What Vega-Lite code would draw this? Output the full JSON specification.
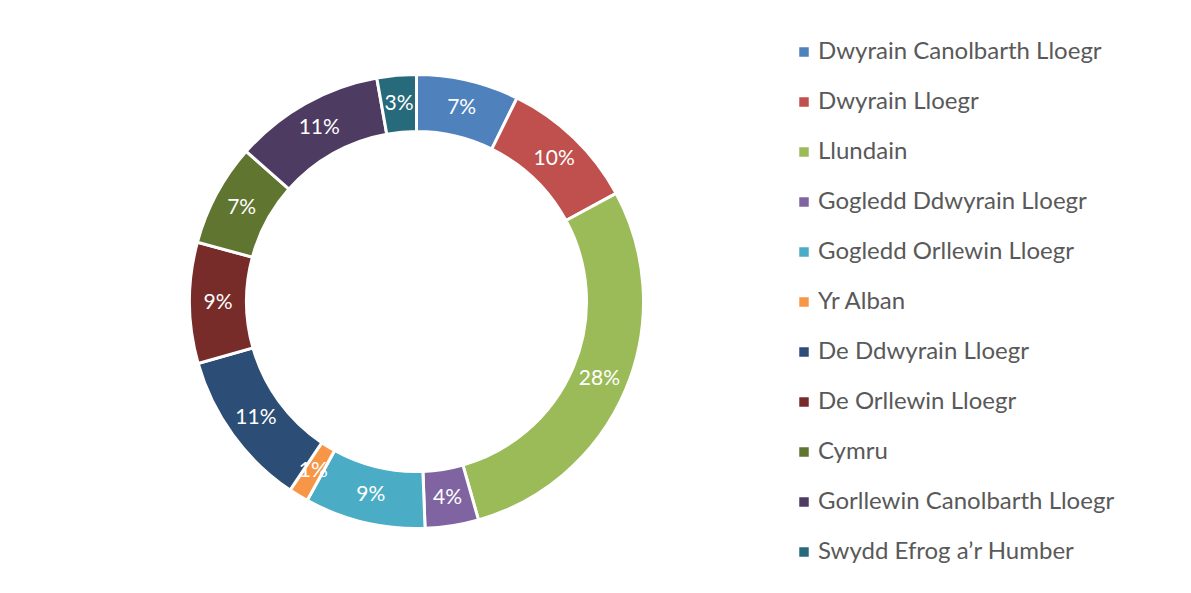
{
  "$schema": "https://vega.github.io/schema/vega-lite/v6.json",
  "width": 833,
  "height": 583,
  "autosize": {"type": "none"},
  "padding": {"left": 0, "top": 10, "right": 358, "bottom": 0},
  "background": "white",
  "config": {"view": {"stroke": null}},
  "data": {
    "values": [
      {"idx": 1, "region": "Dwyrain Canolbarth Lloegr", "share": 7.3, "label": "7%"},
      {"idx": 2, "region": "Dwyrain Lloegr", "share": 9.8, "label": "10%"},
      {"idx": 3, "region": "Llundain", "share": 28.5, "label": "28%"},
      {"idx": 4, "region": "Gogledd Ddwyrain Lloegr", "share": 3.8, "label": "4%"},
      {"idx": 5, "region": "Gogledd Orllewin Lloegr", "share": 8.6, "label": "9%"},
      {"idx": 6, "region": "Yr Alban", "share": 1.4, "label": "1%"},
      {"idx": 7, "region": "De Ddwyrain Lloegr", "share": 11.2, "label": "11%"},
      {"idx": 8, "region": "De Orllewin Lloegr", "share": 8.6, "label": "9%"},
      {"idx": 9, "region": "Cymru", "share": 7.3, "label": "7%"},
      {"idx": 10, "region": "Gorllewin Canolbarth Lloegr", "share": 10.7, "label": "11%"},
      {"idx": 11, "region": "Swydd Efrog a’r Humber", "share": 2.8, "label": "3%"}
    ]
  },
  "encoding": {
    "theta": {"field": "share", "type": "quantitative", "stack": true},
    "order": {"field": "idx", "type": "quantitative"}
  },
  "layer": [
    {
      "mark": {"type": "arc", "outerRadius": 227, "innerRadius": 170, "stroke": "white", "strokeWidth": 3},
      "encoding": {
        "color": {
          "field": "region",
          "type": "nominal",
          "sort": null,
          "scale": {
            "domain": ["Dwyrain Canolbarth Lloegr", "Dwyrain Lloegr", "Llundain", "Gogledd Ddwyrain Lloegr", "Gogledd Orllewin Lloegr", "Yr Alban", "De Ddwyrain Lloegr", "De Orllewin Lloegr", "Cymru", "Gorllewin Canolbarth Lloegr", "Swydd Efrog a’r Humber"],
            "range": ["#4F81BD", "#C0504D", "#9BBB59", "#8064A2", "#4BACC6", "#F79646", "#2C4D75", "#772C2A", "#5F7530", "#4D3B62", "#276A7C"]
          },
          "legend": {
            "orient": "none",
            "legendX": 792,
            "legendY": 30,
            "title": null,
            "symbolType": "square",
            "symbolSize": 90,
            "symbolStrokeWidth": 0,
            "labelFont": "Lato",
            "labelFontSize": 24,
            "labelColor": "#595959",
            "labelOffset": 2,
            "rowPadding": 26,
            "labelLimit": 400,
            "padding": 0
          }
        }
      }
    },
    {
      "mark": {"type": "text", "radius": 198.5, "color": "white", "font": "Lato", "fontSize": 21, "baseline": "middle", "align": "center"},
      "encoding": {
        "text": {"field": "label", "type": "nominal"}
      }
    }
  ]
}
